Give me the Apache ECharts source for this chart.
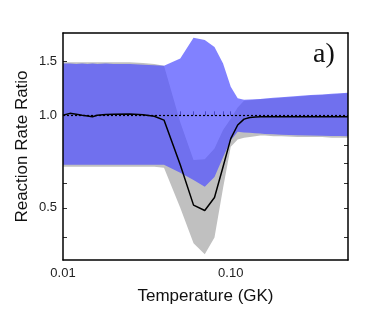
<!DOCTYPE html>
<html><head><meta charset="utf-8">
<script src="https://cdn.jsdelivr.net/npm/echarts@6/dist/echarts.min.js"></script>
<style>html,body{margin:0;padding:0;background:#fff}#c{width:374px;height:312px}</style>
</head><body><div id="c"></div>
<script>
// ---- data ----
const temperature = [0.01,0.011,0.012,0.013,0.014,0.015,0.016,0.018,0.02,0.025,0.03,0.035,0.04,0.05,0.06,0.07,0.08,0.09,0.1,0.11,0.12,0.13,0.14,0.15,0.16,0.18,0.2,0.25,0.3,0.35,0.4,0.45,0.5];
const rateRatio   = [1.00,1.015,1.008,1.0,0.995,0.99,1.0,1.006,1.008,1.01,1.005,0.993,0.965,0.69,0.51,0.49,0.54,0.68,0.84,0.93,0.972,0.984,0.988,0.99,0.99,0.99,0.99,0.99,0.99,0.99,0.99,0.99,0.99];
const grayLower   = [0.68,0.68,0.68,0.68,0.68,0.68,0.68,0.68,0.68,0.68,0.68,0.68,0.675,0.50,0.383,0.353,0.40,0.58,0.79,0.835,0.845,0.85,0.855,0.86,0.86,0.855,0.855,0.85,0.85,0.85,0.845,0.845,0.845];
const grayUpper   = [1.49,1.49,1.49,1.49,1.49,1.49,1.49,1.49,1.49,1.49,1.48,1.47,1.45,0.95,0.715,0.72,0.78,0.896,0.975,1.06,1.115,1.12,1.125,1.128,1.13,1.135,1.14,1.15,1.16,1.165,1.17,1.175,1.18];
const blueLower   = [0.69,0.69,0.69,0.69,0.69,0.69,0.69,0.69,0.69,0.69,0.69,0.69,0.69,0.65,0.616,0.585,0.63,0.73,0.83,0.885,0.88,0.878,0.875,0.873,0.87,0.868,0.865,0.862,0.86,0.858,0.857,0.856,0.855];
const blueUpper   = [1.475,1.475,1.47,1.475,1.47,1.475,1.47,1.475,1.47,1.47,1.46,1.455,1.45,1.53,1.79,1.76,1.67,1.476,1.24,1.136,1.125,1.126,1.128,1.131,1.134,1.14,1.146,1.155,1.165,1.17,1.175,1.18,1.185];
const referenceRatio = 1.0;
const xRange = [0.01, 0.5];
const yRange = [0.338, 1.854];
const xTickValues = [0.01,0.02,0.03,0.04,0.05,0.06,0.07,0.08,0.09,0.1,0.2,0.3,0.4];
const xLabelValues = [0.01, 0.1];
const xLabelTexts  = ['0.01', '0.10'];
const yTickLeft  = [0.4,0.5,0.6,0.7,0.8,0.9,1.0,1.5];
const yTickRight = [0.4,0.5,0.6,0.7,0.8,0.9,1.0];
const yLabelValues = [0.5, 1.0, 1.5];
const yLabelTexts  = ['0.5', '1.0', '1.5'];

// ---- build ----
const L = Math.log10;
const FONT = '"Liberation Sans", Arial, sans-serif';
function lookup(vals, texts) {
  return function (v) {
    for (let i = 0; i < vals.length; i++) if (Math.abs(L(vals[i]) - v) < 1e-6) return texts[i];
    return '';
  };
}
const lx = temperature.map(L);
const pairs = arr => arr.map((v, i) => [lx[i], L(v)]);

const xMin = L(xRange[0]), xMax = L(xRange[1]);
const yMin = L(yRange[0]), yMax = L(yRange[1]);

function frameAxis(pos, min, max) {
  return { type: 'value', position: pos, min: min, max: max, z: 10,
    axisLine: { show: true, onZero: false, lineStyle: { color: '#000', width: 1.5 } },
    axisTick: { show: false }, axisLabel: { show: false }, splitLine: { show: false } };
}

function bandSeries(lo, hi, color, z) {
  const data = lo.map((v, i) => [lx[i], L(v), L(hi[i])]);
  return {
    type: 'custom', silent: true, z: z, clip: true,
    encode: { x: 0, y: [1, 2] },
    data: data,
    renderItem: function (params, api) {
      if (params.dataIndex !== 0) return null;
      const top = data.map(d => api.coord([d[0], d[2]]));
      const bot = data.map(d => api.coord([d[0], d[1]])).reverse();
      return { type: 'polygon', shape: { points: top.concat(bot) }, style: { fill: color } };
    }
  };
}

const chart = echarts.init(document.getElementById('c'), null, { renderer: 'canvas' });
chart.setOption({
  animation: false,
  backgroundColor: '#fff',
  grid: { left: 63, right: 26, top: 33, bottom: 52 },
  xAxis: [
    { type: 'value', position: 'bottom', min: xMin, max: xMax,
      name: 'Temperature (GK)', nameLocation: 'middle', nameGap: 28, nameMoveOverlap: false,
      nameTextStyle: { fontFamily: FONT, fontSize: 17, color: '#111' },
      axisLine: { show: false },
      axisTick: { show: true, inside: true, length: 4, customValues: xTickValues.map(L),
        lineStyle: { color: '#333', width: 1 } },
      axisLabel: { customValues: xLabelValues.map(L), formatter: lookup(xLabelValues, xLabelTexts),
        margin: 7, fontFamily: FONT, fontSize: 13, color: '#222' },
      splitLine: { show: false } },
    frameAxis('bottom', xMin, xMax),
    frameAxis('top', xMin, xMax)
  ],
  yAxis: [
    { type: 'value', position: 'left', min: yMin, max: yMax,
      name: 'Reaction Rate Ratio', nameLocation: 'middle', nameGap: 32, nameMoveOverlap: false,
      nameTextStyle: { fontFamily: FONT, fontSize: 17, color: '#111' },
      axisLine: { show: false },
      axisTick: { show: true, inside: true, length: 4, customValues: yTickLeft.map(L),
        lineStyle: { color: '#333', width: 1 } },
      axisLabel: { customValues: yLabelValues.map(L), formatter: lookup(yLabelValues, yLabelTexts),
        margin: 6, fontFamily: FONT, fontSize: 13, color: '#222' },
      splitLine: { show: false } },
    { type: 'value', position: 'right', min: yMin, max: yMax,
      axisLine: { show: false },
      axisTick: { show: true, inside: true, length: 4, customValues: yTickRight.map(L),
        lineStyle: { color: '#333', width: 1 } },
      axisLabel: { show: false }, splitLine: { show: false } },
    frameAxis('left', yMin, yMax),
    frameAxis('right', yMin, yMax)
  ],
  graphic: [{ type: 'text', left: 313, top: 41, z: 20,
    style: { text: 'a)', fontFamily: '"Liberation Serif", "DejaVu Serif", serif', fontSize: 28, fill: '#111' } }],
  series: [
    bandSeries(grayLower, grayUpper, '#c0c0c0', 2),
    bandSeries(blueLower, blueUpper, 'rgba(80,80,255,0.72)', 3),
    { type: 'line', name: 'ratio', showSymbol: false, symbol: 'none', silent: true, z: 5,
      data: pairs(rateRatio), lineStyle: { color: '#000', width: 1.5 },
      markLine: { silent: true, symbol: 'none', label: { show: false },
        lineStyle: { color: '#000', width: 1.2, type: [2, 2] },
        data: [{ yAxis: L(referenceRatio) }] } }
  ]
});
</script></body></html>
